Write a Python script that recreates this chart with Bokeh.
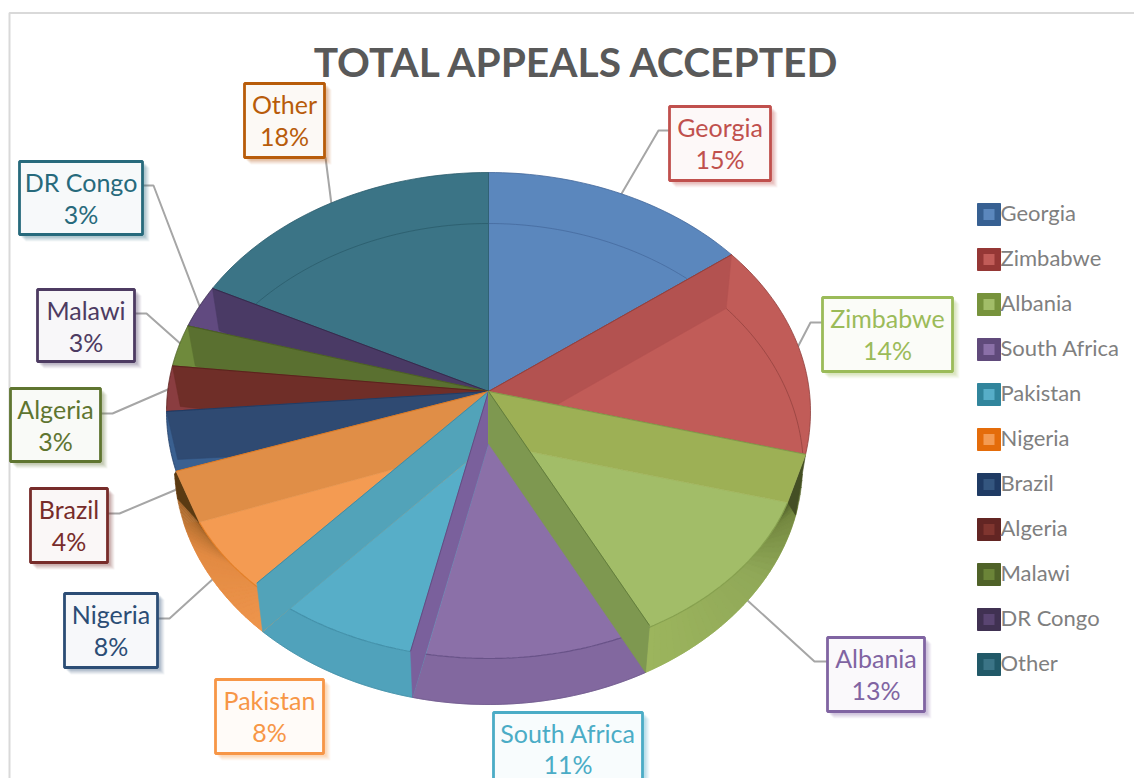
import math
from bokeh.plotting import figure
from bokeh.models import Range1d
from bokeh.embed import file_html
from bokeh.resources import INLINE

# ---------- chart data ----------
title_text = "TOTAL APPEALS ACCEPTED"
categories = ["Georgia", "Zimbabwe", "Albania", "South Africa", "Pakistan", "Nigeria",
              "Brazil", "Algeria", "Malawi", "DR Congo", "Other"]
percent = [15, 14, 13, 11, 8, 8, 4, 3, 3, 3, 18]

# ---------- styles ----------
floor_col = ["#5b87bd", "#c15c58", "#a2bd68", "#8b70a8", "#57aec8", "#f49b52",
             "#3a6090", "#8a3d40", "#6f8a3c", "#614a80", "#3b7486"]
wall_col = ["#5b87bd", "#b35250", "#9db055", "#7a609c", "#52a3b9", "#e08e47",
            "#2f4a72", "#6f2e28", "#5a7030", "#4a3a65", "#3b7486"]
side_col = [None, None, "#9cb55d", "#82689f", "#50a2bb", "#ee954c", None, None, None, None, None]
line_col = ["#43679a", "#8f3f3c", "#7f9a48", "#5f4a80", "#3d8aa3", "#e07a20",
            "#1f3b64", "#5a1f1c", "#4a5e22", "#35284a", "#2b5c6c"]
legend_outer = ["#376092", "#953735", "#77933c", "#604a7b", "#31859c", "#e46c0a",
                "#1f3b64", "#632523", "#4f6228", "#403152", "#215968"]
legend_inner = ["#5b87bd", "#c15c58", "#a2bd68", "#8b70a8", "#57aec8", "#f49b52",
                "#34567f", "#80352f", "#6b8438", "#5a4572", "#3b7486"]
label_col = ["#c0504d", "#9bbb59", "#8064a2", "#4bacc6", "#f79646", "#2c4d75",
             "#772c2a", "#5f7530", "#4d3b62", "#276a7c", "#b85c0a"]
# label boxes: left, right, top, bottom in page pixels
label_box = [(669, 770, 106, 180), (822, 952, 297, 371), (827, 924, 637, 711),
             (493, 642, 712, 790), (215, 323, 679, 753), (64, 157, 593, 667),
             (30, 107, 488, 562), (10, 100, 388, 461), (37, 134, 289, 361),
             (19, 142, 161, 234), (244, 324, 83, 157)]
# leader lines from the boxes to the pie rim
leaders = {0: [(669, 130), (658, 130), (620, 195)],
           1: [(822, 322), (810, 322), (797, 347)],
           2: [(827, 661), (814, 661), (747, 600)],
           5: [(157, 618), (169, 618), (213, 578)],
           6: [(107, 513), (119, 513), (176, 489)],
           7: [(100, 413), (112, 413), (172, 387)],
           8: [(134, 313), (146, 313), (182, 345)],
           9: [(142, 185), (153, 185), (200, 308)],
           10: [(325, 157), (331, 204)]}

# perspective of the 3D view: shift in degrees of each slice boundary on the rim and on the floor
rim_shift = [0, -5, -4.4, -1.2, 3.2, 6.4, 7.6, 7.2, 7.4, 6.6, 5.8, 0]
floor_shift = [0, -5, 2.1, -2.2, 0.8, 0.0, -0.4, 2.2, 5.4, 5.6, 5.1, 0]

FONT = "Lato"
p = figure(width=1134, height=778, output_backend="svg", toolbar_location=None,
           x_range=Range1d(0, 1134), y_range=Range1d(778, 0), min_border=0,
           background_fill_color="#ffffff", border_fill_color="#ffffff")
p.axis.visible = False
p.grid.visible = False
p.outline_line_color = None

# ---------- geometry helpers ----------
AX, AY = 488, 391      # apex on the top
FX, FY = 488, 443      # apex on the floor
rad = math.radians


def rim(t):
    c, s = math.cos(rad(t)), math.sin(rad(t))
    return (488 + 322 * s, 411 - (239 if c > 0 else 247) * c)


def front(t):
    return (488 + 312 * math.sin(rad(t)), 440 - 218 * math.cos(rad(t)))


def back(t):
    return (488 + 315 * math.sin(rad(t)), 470 - 247 * math.cos(rad(t)))


def base(t):
    return (488 + 314 * math.sin(rad(t)), 465 - 239 * math.cos(rad(t)))


def arc(f, a, b, n=40):
    return [f(a + (b - a) * k / n) for k in range(n + 1)]


def poly(pts, color, line=None, lw=0.6, alpha=1.0):
    p.patch([q[0] for q in pts], [q[1] for q in pts], fill_color=color, fill_alpha=alpha,
            line_color=line or color, line_width=lw, line_alpha=alpha)


def path(pts, color, lw=1.0, alpha=1.0):
    p.line([q[0] for q in pts], [q[1] for q in pts], line_color=color, line_width=lw, line_alpha=alpha)


def hexrgb(h):
    return tuple(int(h[i:i + 2], 16) for i in (1, 3, 5))


def ramp(stops, u):
    for (u0, c0), (u1, c1) in zip(stops, stops[1:]):
        if u <= u1:
            w = (u - u0) / (u1 - u0)
            a, b = hexrgb(c0), hexrgb(c1)
            return "#%02x%02x%02x" % tuple(round(a[i] + (b[i] - a[i]) * w) for i in range(3))
    return stops[-1][1]


raw = [0.0]
for v in percent:
    raw.append(raw[-1] + v * 360.0 / sum(percent))
T = [r + s for r, s in zip(raw, rim_shift)]     # boundary on the rim
T2 = [r + s for r, s in zip(raw, floor_shift)]  # boundary on the floor

# ---------- chart frame ----------
path([(9, 778), (9, 12.5), (1134, 12.5)], "#d9d9d9", 2)

# ---------- leaders (under the pie) ----------
for pts in leaders.values():
    path(pts, "#a6a6a6", 2)

# ---------- outer side of the pie ----------
for i in (2, 3, 4, 5):
    pts = arc(front, T2[i], T2[i + 1]) + arc(base, T[i + 1], T[i])
    poly(pts, side_col[i])

alb_stops = [(0, "#9cb55d"), (0.55, "#90a858"), (0.85, "#73873f"), (1, "#444f24")]
n = 36
for k in range(n):
    u0, u1 = k / n, (k + 1) / n
    lo0, lo1 = T[3] + (92 - T[3]) * u0, T[3] + (92 - T[3]) * u1
    up0, up1 = T2[3] + (T2[2] - T2[3]) * u0, T2[3] + (T2[2] - T2[3]) * u1
    poly([front(up0), front(up1), base(lo1), base(lo0)], ramp(alb_stops, (u0 + u1) / 2))
poly([rim(T[2]), base(92), base(102), front(T2[2])], "#444f24")

nig_stops = [(0, "#ee954c"), (0.55, "#e28a42"), (0.85, "#a8682c"), (1, "#5a3a12")]
for k in range(n):
    u0, u1 = k / n, (k + 1) / n
    lo0, lo1 = T[5] + (T[6] + 12 - T[5]) * u0, T[5] + (T[6] + 12 - T[5]) * u1
    up0, up1 = T2[5] + (T2[6] - T2[5]) * u0, T2[5] + (T2[6] - T2[5]) * u1
    poly([front(up0), front(up1), base(lo1), base(lo0)], ramp(nig_stops, (u0 + u1) / 2))
poly([rim(T[6]), base(T[6] + 12), base(T[6] + 6), front(T2[6])], "#5a3a12")

# ---------- top surfaces ----------
for i in (0, 1, 6, 7, 8, 9, 10):
    poly([(AX, AY)] + arc(rim, T[i], T[i + 1]), floor_col[i], line_col[i], 0.8)
for i in (2, 3, 4, 5):
    poly([(FX, FY)] + arc(front, T2[i], T2[i + 1]), floor_col[i])
    path(arc(front, T2[i], T2[i + 1]), line_col[i], 1.2, 0.8)

# ---------- faint inner arcs on the back slices ----------
path(arc(back, 0, 39), "#43679a", 1, 0.7)
path(arc(back, 49, 86), "#8f3f3c", 1, 0.7)
path(arc(back, 311.4, 360), "#2b5c6c", 1, 0.8)


# ---------- inner walls, from back to front ----------
def wall(i, b, corner):
    poly([(AX, AY), rim(T[b]), corner, (FX, FY)], wall_col[i])
    path([(AX, AY), rim(T[b])], line_col[i], 1.0, 0.9)


wall(9, 10, front(T2[10]))
wall(8, 9, front(T2[9]))
wall(7, 8, front(T2[8]))
wall(6, 7, front(T2[7]))
wall(5, 6, front(T2[6]))
wall(4, 5, base(T[5]))
wall(3, 4, base(T[4]))
wall(1, 1, back(T2[1]))
wall(2, 2, front(T2[2]))
poly([(AX, AY), rim(T[3]), base(T[3]), (FX, FY)], "#7e9850")
path([(AX, AY), rim(T[3])], "#5f7a3a", 1.0, 0.9)

# silhouette strokes on the side
path(arc(base, 150, 194), "#6a5488", 1, 0.7)
path(arc(base, 194, 226), "#3d8aa3", 1, 0.7)

# ---------- title ----------
p.text([577], [61], text=[title_text], text_font={"value": FONT}, text_font_size="40.7px",
       text_font_style="bold", text_color="#595959", text_align="center", text_baseline="middle")

# ---------- legend ----------
for i, name in enumerate(categories):
    y = 214 + 45 * i
    p.quad(left=[977], right=[1000], top=[y - 11], bottom=[y + 11], fill_color=legend_outer[i],
           line_color=legend_outer[i], line_width=1)
    p.quad(left=[983], right=[994], top=[y - 5.5], bottom=[y + 5.5], fill_color=legend_inner[i],
           line_color=None)
    p.text([1000], [y - 2], text=[name], text_font={"value": FONT}, text_font_size="22px",
           text_color="#7f7f7f", text_baseline="middle")

# ---------- data labels ----------
for i, name in enumerate(categories):
    l, r, t, b = label_box[i]
    c = label_col[i]
    for off, a in ((7, 0.06), (6, 0.07), (5, 0.08), (4, 0.1), (3, 0.12)):
        p.quad(left=[l + off - 1], right=[r + off], top=[t + off - 1], bottom=[b + off],
               fill_color=c, fill_alpha=a, line_color=None)
    p.quad(left=[l], right=[r], top=[t], bottom=[b], fill_color="#ffffff", line_color=None)
    p.quad(left=[l], right=[r], top=[t], bottom=[b], fill_color=c, fill_alpha=0.04,
           line_color=c, line_width=2.8)
    cx = (l + r) / 2
    second = 51 if i == 3 else 52
    p.text([cx], [t + 20], text=[name], text_font={"value": FONT}, text_font_size="25px",
           text_color=c, text_align="center", text_baseline="middle")
    p.text([cx], [t + second], text=["%d%%" % percent[i]], text_font={"value": FONT},
           text_font_size="25px", text_color=c, text_align="center", text_baseline="middle")

open("out.html", "w").write(file_html(p, INLINE))
